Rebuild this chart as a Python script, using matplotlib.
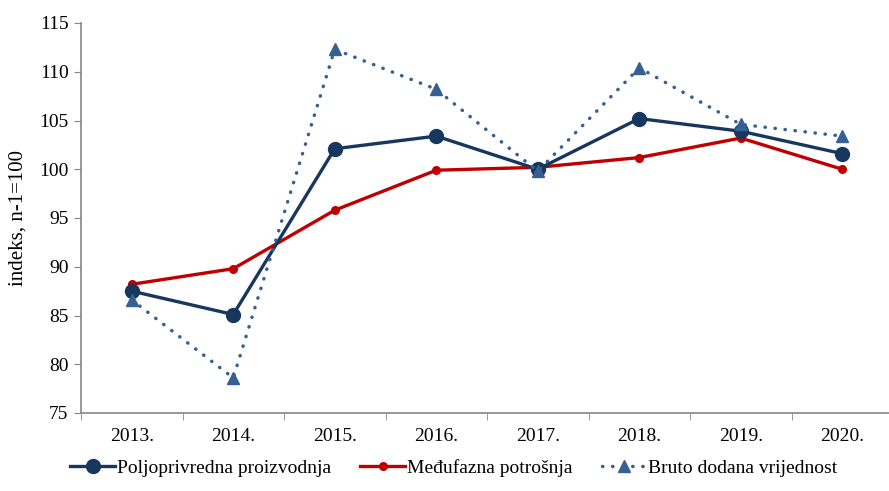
import numpy as np
import matplotlib.pyplot as plt
import matplotlib as mpl

mpl.rcParams['font.family'] = ['Liberation Serif', 'DejaVu Serif']
mpl.rcParams['font.size'] = 14

years = ['2013.', '2014.', '2015.', '2016.', '2017.', '2018.', '2019.', '2020.']
poljoprivredna = [87.5, 85.1, 102.1, 103.4, 100.0, 105.2, 103.9, 101.6]
medjufazna = [88.2, 89.8, 95.8, 99.9, 100.2, 101.2, 103.2, 100.0]
bruto = [86.6, 78.6, 112.3, 108.2, 99.8, 110.4, 104.6, 103.4]

x = np.arange(len(years))

fig = plt.figure(figsize=(8.89, 4.91), dpi=100)
ax = fig.add_axes([81/889, 1-413/491, 812/889, 390/491])

ax.plot(x, poljoprivredna, color='#17375E', lw=2.4, marker='o', ms=10,
        label='Poljoprivredna proizvodnja', zorder=3)
ax.plot(x, medjufazna, color='#C00000', lw=2.4, marker='o', ms=5.5,
        label='Međufazna potrošnja', zorder=2)
ax.plot(x, bruto, color='#376092', lw=2.5, ls=(0, (0.1, 2.8)), dash_capstyle='round',
        marker='^', ms=9, label='Bruto dodana vrijednost', zorder=4)

ax.set_xlim(-0.5, len(years) - 0.5)
ax.set_ylim(75, 115)
ax.set_yticks(np.arange(75, 116, 5))
ax.set_xticks(x)
ax.set_xticklabels(years)
ax.set_xticks(np.arange(-0.5, len(years), 1), minor=True)
ax.tick_params(axis='x', which='major', length=0, pad=11)
ax.tick_params(axis='x', which='minor', length=5, color='#868686')
ax.tick_params(axis='y', length=5, color='#868686', pad=4)

for s in ['top', 'right']:
    ax.spines[s].set_visible(False)
for s in ['left', 'bottom']:
    ax.spines[s].set_color('#868686')
    ax.spines[s].set_linewidth(1.2)

ax.set_ylabel('indeks, n-1=100', fontsize=15, labelpad=8)

fig.legend(loc='center', bbox_to_anchor=(454/889, 1-468/491), ncol=3, frameon=False,
           handlelength=2.3, handletextpad=0.1, columnspacing=1.5)

fig.savefig('out.png', dpi=100)
